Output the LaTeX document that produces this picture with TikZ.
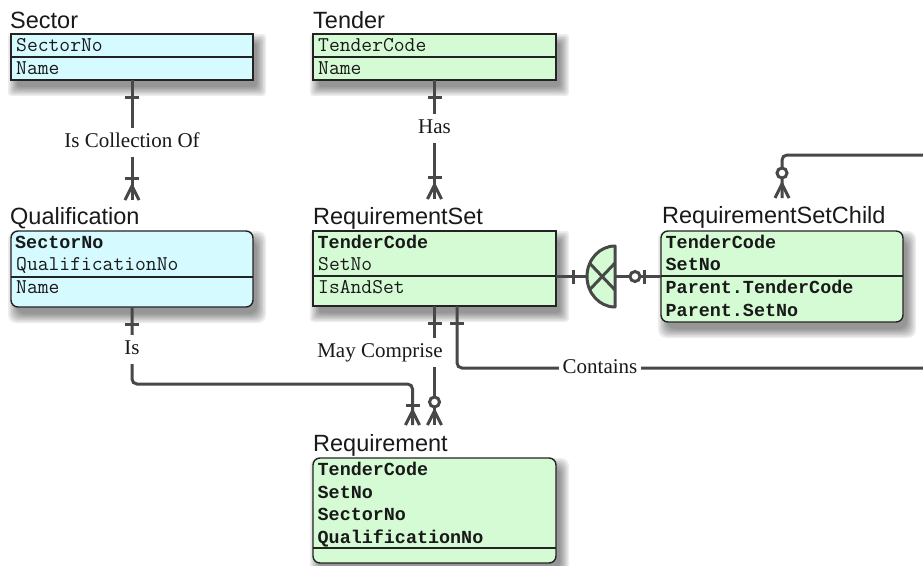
\documentclass[tikz,border=0pt]{standalone}
\usepackage{fontspec}
\setmainfont{Liberation Serif}
\setsansfont{Liberation Sans}
\newfontfamily\keymono{Liberation Mono}
\usetikzlibrary{calc}
\definecolor{cyanfill}{RGB}{213,250,255}
\definecolor{greenfill}{RGB}{213,251,213}
\definecolor{linec}{RGB}{72,72,72}
\definecolor{borderc}{RGB}{35,35,35}
\definecolor{textc}{RGB}{25,25,25}
\tikzset{
  rel/.style={draw=linec, line width=3pt},
  pics/tickh/.style={code={\draw[rel] (-7,0) -- (7,0);}},
  pics/tickv/.style={code={\draw[rel] (0,-7) -- (0,7);}},
  pics/crowdown/.style={code={\draw[rel] (-7,0) -- (0,-14) -- (7,0);}},
  pics/ring/.style={code={\draw[rel, fill=white] (0,0) circle[radius=5pt];}},
}
\newcommand{\softshadow}[5]{%
  \foreach \e in {9,7.5,6,4.5,3,1.5,0}{%
    \fill[black,opacity=0.07,rounded corners=#5]
      ({#1+6-\e},{#2+9-\e}) rectangle ({#3+4+\e},{#4+7+\e});}}
\begin{document}
\begin{tikzpicture}[x=1pt,y=-1pt,
  box/.style={draw=borderc, line width=1.4pt, anchor=north west, inner sep=0pt, outer sep=0pt},
  ttl/.style={font=\sffamily\fontsize{23.5}{28}\selectfont, text=textc, anchor=base west, inner sep=0pt},
  attr/.style={font=\ttfamily\fontsize{21}{24}\selectfont, text=textc, anchor=base west, inner sep=0pt},
  keyattr/.style={font=\keymono\bfseries\fontsize{18.4}{22}\selectfont, text=textc, anchor=base west, inner sep=0pt},
  lbl/.style={font=\rmfamily\fontsize{21}{24}\selectfont, text=textc, fill=white, inner xsep=4pt, inner ysep=5pt, text height=15pt, text depth=4pt},
  divider/.style={draw=borderc, line width=1.4pt},
]
\useasboundingbox (0,0) rectangle (923,565);
\clip (0,0) rectangle (923,565);
\fill[white] (0,0) rectangle (923,565);

% shadows
\softshadow{11}{34}{253}{80}{3pt}
\softshadow{313}{34}{556}{80}{3pt}
\softshadow{11}{231}{253}{307}{8pt}
\softshadow{313}{231}{556}{306}{3pt}
\softshadow{661}{231}{903}{322}{8pt}
\softshadow{313}{458}{556}{563}{8pt}

% Sector
\node[box, fill=cyanfill, minimum width=242pt, minimum height=46pt] (sector) at (11,34) {};
\draw[divider] (11,57) -- (253,57);
\node[ttl] (sectorT) at (10,28) {Sector};
\node[attr] (sectorA1) at (16,51.5) {SectorNo};
\node[attr] (sectorA2) at (16,74) {Name};

% Tender
\node[box, fill=greenfill, minimum width=243pt, minimum height=46pt] (tender) at (313,34) {};
\draw[divider] (313,57) -- (556,57);
\node[ttl] (tenderT) at (313,28) {Tender};
\node[attr] (tenderA1) at (318,51.5) {TenderCode};
\node[attr] (tenderA2) at (318,74) {Name};

% Qualification
\node[box, fill=cyanfill, rounded corners=7pt, minimum width=242pt, minimum height=76pt] (qual) at (11,231) {};
\draw[divider] (11,277) -- (253,277);
\node[ttl] (qualT) at (10,224.5) {Qualification};
\node[keyattr] (qualA1) at (15,248) {SectorNo};
\node[attr] (qualA2) at (16,270.5) {QualificationNo};
\node[attr] (qualA3) at (16,293) {Name};

% RequirementSet
\node[box, fill=greenfill, minimum width=243pt, minimum height=75pt] (reqset) at (313,231) {};
\draw[divider] (313,276) -- (556,276);
\node[ttl] (reqsetT) at (313,224) {RequirementSet};
\node[keyattr] (reqsetA1) at (317.5,248) {TenderCode};
\node[attr] (reqsetA2) at (318,270.5) {SetNo};
\node[attr] (reqsetA3) at (318,293) {IsAndSet};

% RequirementSetChild
\node[box, fill=greenfill, rounded corners=7pt, minimum width=242pt, minimum height=91pt] (rsc) at (661,231) {};
\draw[divider] (661,276) -- (903,276);
\node[ttl] (rscT) at (662,223.5) {RequirementSetChild};
\node[keyattr] (rscA1) at (665.5,248) {TenderCode};
\node[keyattr] (rscA2) at (665.5,270.7) {SetNo};
\node[keyattr] (rscA3) at (665.5,293.3) {Parent.TenderCode};
\node[keyattr] (rscA4) at (665.5,316) {Parent.SetNo};

% Requirement
\node[box, fill=greenfill, rounded corners=7pt, minimum width=243pt, minimum height=105pt] (req) at (313,458) {};
\draw[divider] (313,548) -- (556,548);
\node[ttl] (reqT) at (313,451.5) {Requirement};
\node[keyattr] (reqA1) at (317.5,475.5) {TenderCode};
\node[keyattr] (reqA2) at (317.5,498) {SetNo};
\node[keyattr] (reqA3) at (317.5,520.7) {SectorNo};
\node[keyattr] (reqA4) at (317.5,543.3) {QualificationNo};

% connector end points
\coordinate (qualIn) at ($(qual.north)+(0,-31)$);
\coordinate (reqsetIn) at ($(reqset.north)+(0,-32)$);
\coordinate (reqInA) at ($(req.north)+(-22,-33)$);
\coordinate (reqInB) at ($(req.north)+(0,-33)$);
\coordinate (rscIn) at ($(rsc.north)+(0,-33)$);
\coordinate (contStart) at ($(reqset.south)+(22.5,0)$);
\coordinate (sub) at (615,276.5);

% Sector -- Qualification
\draw[rel] (sector.south) -- (qualIn);
\pic at ($(sector.south)+(0,17)$) {tickh};
\pic at ($(qualIn)+(0,-22)$) {tickh};
\pic at (qualIn) {crowdown};
\node[lbl] (lblColl) at (132,142) {Is Collection Of};

% Tender -- RequirementSet
\draw[rel] (tender.south) -- (reqsetIn);
\pic at ($(tender.south)+(0,17)$) {tickh};
\pic at ($(reqsetIn)+(0,-22)$) {tickh};
\pic at (reqsetIn) {crowdown};
\node[lbl] (lblHas) at (434.5,128) {Has};

% Qualification -- Requirement
\draw[rel, rounded corners=5pt] (qual.south) -- ++(0,77) -| (reqInA);
\pic at ($(qual.south)+(0,17)$) {tickh};
\pic at ($(reqInA)+(0,-20)$) {tickh};
\pic at (reqInA) {crowdown};
\node[lbl] (lblIs) at (132,349) {Is};

% RequirementSet -- Requirement
\draw[rel] (reqset.south) -- (reqInB);
\pic at ($(reqset.south)+(0,17)$) {tickh};
\pic at (reqInB) {crowdown};
\pic at ($(reqInB)+(0,-23)$) {ring};
\node[lbl] (lblMay) at (380,352) {May Comprise};

% RequirementSet -- RequirementSetChild (Contains)
\draw[rel, rounded corners=5pt] (contStart) |- (945,368) -- (945,155) -| (rscIn);
\pic at ($(contStart)+(0,17)$) {tickh};
\pic at (rscIn) {crowdown};
\pic at ($(rscIn)+(0,-25)$) {ring};
\node[lbl] (lblCont) at (600,368) {Contains};

% subtype
\draw[rel] (reqset.east |- rsc.west) -- (sub);
\draw[rel] (sub) -- (rsc.west);
\pic at ($(reqset.east |- rsc.west)+(17,0)$) {tickv};
\pic at ($(rsc.west)+(-17,0)$) {tickv};
\pic at ($(rsc.west)+(-26,0)$) {ring};
\filldraw[rel, fill=greenfill, line join=round]
  ($(sub)+(0,-30.5)$) .. controls ($(sub)+(-15.46,-30.5)$) and ($(sub)+(-28,-16.85)$) ..
  ($(sub)+(-28,0)$) .. controls ($(sub)+(-28,16.85)$) and ($(sub)+(-15.46,30.5)$) ..
  ($(sub)+(0,30.5)$) -- cycle;
\draw[rel] ($(sub)+(-25.6,-13.5)$) -- ($(sub)+(0,13.5)$);
\draw[rel] ($(sub)+(-25.6,13.5)$) -- ($(sub)+(0,-13.5)$);
\end{tikzpicture}
\end{document}
